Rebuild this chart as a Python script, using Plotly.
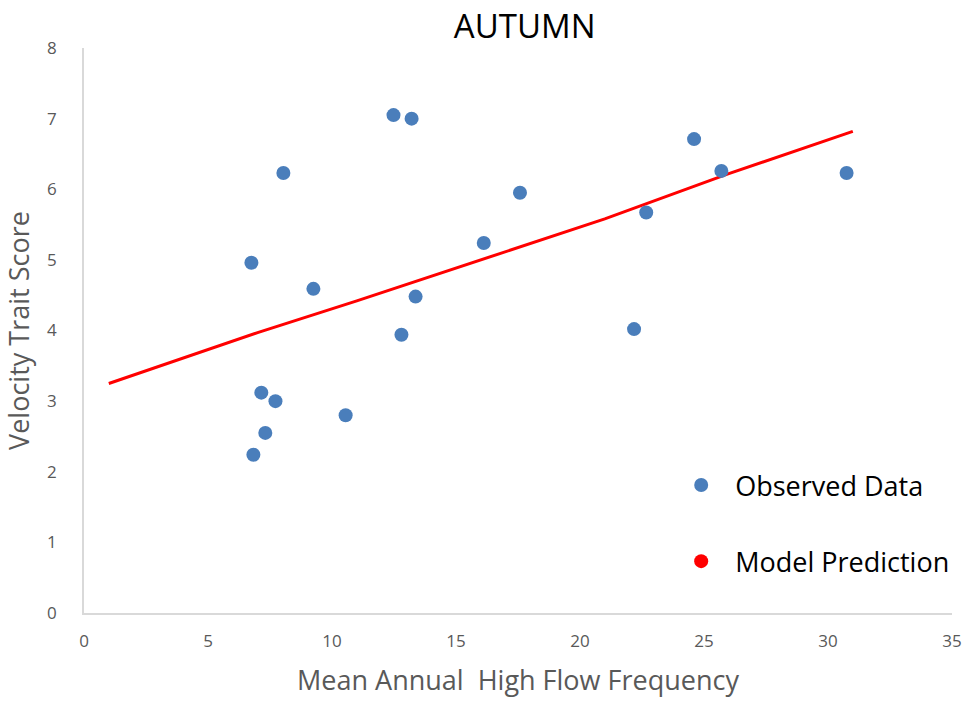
import plotly.graph_objects as go

# Observed data
obs_x = [6.75, 6.83, 7.15, 7.31, 7.72, 8.04, 9.25, 10.55, 12.48, 12.8,
         13.21, 13.37, 16.12, 17.58, 22.18, 22.67, 24.6, 25.7, 30.75]
obs_y = [4.96, 2.24, 3.12, 2.55, 3.0, 6.23, 4.59, 2.80, 7.05, 3.94,
         7.0, 4.48, 5.24, 5.95, 4.02, 5.67, 6.71, 6.26, 6.23]

# Model prediction line
mod_x = [1, 7, 11, 16, 21, 26, 31]
mod_y = [3.25, 3.97, 4.42, 5.0, 5.58, 6.22, 6.82]

x_ticks = [0, 5, 10, 15, 20, 25, 30, 35]
y_ticks = [0, 1, 2, 3, 4, 5, 6, 7, 8]

BLUE = "#4a7ebb"
RED = "#ff0000"
GRAY = "#595959"
FONT = "Open Sans"

fig = go.Figure()
fig.add_trace(go.Scatter(x=mod_x, y=mod_y, mode="lines",
                         line=dict(color=RED, width=3), showlegend=False,
                         hoverinfo="skip"))
fig.add_trace(go.Scatter(x=obs_x, y=obs_y, mode="markers", name="  Observed Data",
                         marker=dict(color=BLUE, size=14), legendgroup="a"))
fig.add_trace(go.Scatter(x=[None], y=[None], mode="markers", name="  Model Prediction",
                         marker=dict(color=RED, size=14), legendgroup="b"))

fig.update_layout(
    width=968, height=707,
    margin=dict(l=84, r=16, t=48, b=94),
    paper_bgcolor="white", plot_bgcolor="white",
    title=dict(text="AUTUMN", x=0.542, xanchor="center", y=0.962, yanchor="middle",
               font=dict(family=FONT, size=33, color="black")),
    font=dict(family=FONT),
    legend=dict(x=0.688, y=0.269, xanchor="left", yanchor="top",
                font=dict(family=FONT, size=27, color="black"),
                tracegroupgap=38, bgcolor="rgba(0,0,0,0)"),
    showlegend=True,
)
fig.update_xaxes(range=[0, 35], tickvals=x_ticks, showgrid=False, zeroline=False,
                 showline=True, linecolor="#d9d9d9", linewidth=1.5, automargin=False,
                 ticks="", tickfont=dict(family=FONT, size=17, color=GRAY),
                 ticklabelstandoff=12,
                 title=dict(text="Mean Annual  High Flow Frequency",
                            font=dict(family=FONT, size=27, color=GRAY), standoff=20))
fig.update_yaxes(range=[0, 8], tickvals=y_ticks, showgrid=False, zeroline=False,
                 showline=True, linecolor="#d9d9d9", linewidth=1.5, automargin=False,
                 ticks="", tickfont=dict(family=FONT, size=17, color=GRAY),
                 ticklabelstandoff=22,
                 title=dict(text="Velocity Trait Score",
                            font=dict(family=FONT, size=27, color=GRAY), standoff=14))

fig.write_html("out.html")
